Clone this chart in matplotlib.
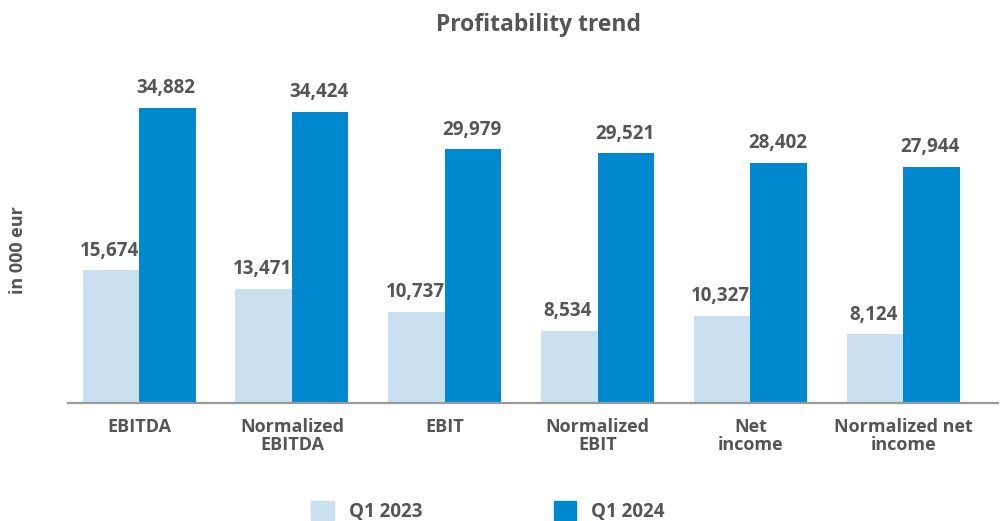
import matplotlib
matplotlib.use("Agg")
import matplotlib.pyplot as plt
import numpy as np
from matplotlib.patches import Patch

categories = ["EBITDA", "Normalized\nEBITDA", "EBIT", "Normalized\nEBIT", "Net\nincome", "Normalized net\nincome"]
q1_2023 = [15674, 13471, 10737, 8534, 10327, 8124]
q1_2024 = [34882, 34424, 29979, 29521, 28402, 27944]
series_names = ["Q1 2023", "Q1 2024"]

light = "#cadff0"
dark = "#0089cf"
txt = "#555555"
plt.rcParams['font.family'] = ['Open Sans', 'DejaVu Sans']

fig = plt.figure(figsize=(10, 5.21), dpi=100)
ax = fig.add_axes([0.068, 0.2265, 0.93, 0.6583])

x = np.arange(len(categories))
w = 0.37
b1 = ax.bar(x - w / 2, q1_2023, w, color=light)
b2 = ax.bar(x + w / 2, q1_2024, w, color=dark)

for bars, vals in ((b1, q1_2023), (b2, q1_2024)):
    for r, v in zip(bars, vals):
        ax.annotate(f"{v:,}", (r.get_x() + r.get_width() / 2, v), xytext=(-1, 7),
                    textcoords="offset points", ha="center", va="bottom",
                    fontsize=13.5, fontweight="bold", color=txt)

ax.set_xlim(-0.465, 5.62)
ax.set_ylim(0, 40558)
ax.set_xticks(x)
ax.set_xticklabels(categories, fontsize=13, fontweight="bold", color=txt, linespacing=1.0)
ax.tick_params(axis="x", length=0, pad=11)
ax.set_yticks([])
for s in ["top", "right", "left"]:
    ax.spines[s].set_visible(False)
ax.spines["bottom"].set_color("#999999")
ax.spines["bottom"].set_linewidth(1.6)

fig.text(0.018, 0.52, "in 000 eur", rotation=90, ha="center", va="center",
         fontsize=13, fontweight="bold", color=txt)
fig.text(0.538, 0.952, "Profitability trend", ha="center", va="center",
         fontsize=16.5, fontweight="bold", color=txt)

handles = [Patch(color=light), Patch(color=dark)]
fig.legend(handles, series_names, loc="lower center", bbox_to_anchor=(0.488, -0.034), ncol=2,
           frameon=False, handlelength=1.2, handleheight=1.2, handletextpad=0.8,
           columnspacing=7.0, prop={"size": 13.5, "weight": "bold"}, labelcolor=txt)

fig.savefig("out.png", dpi=100)
